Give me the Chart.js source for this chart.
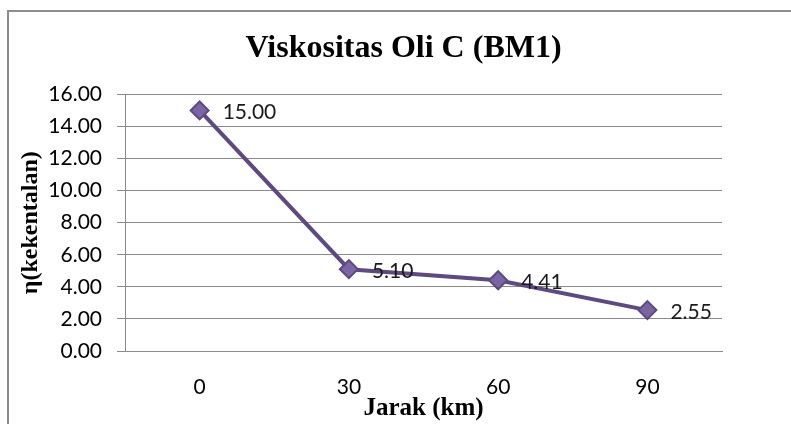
<!DOCTYPE html>
<html>
<head>
<meta charset="utf-8">
<script src="https://cdn.jsdelivr.net/npm/chart.js@4/dist/chart.umd.min.js"></script>
<style>
    html, body { margin: 0; padding: 0; background: #fff; overflow: hidden; }
    #wrap { position: relative; width: 791px; height: 424px; }
    #frame {
        position: absolute; left: 7px; top: 10px; width: 800px; height: 430px;
        border-top: 2px solid #8c8c8c; border-left: 2px solid #8c8c8c;
        box-sizing: border-box;
    }
    canvas { position: absolute; left: 0; top: 0; }
</style>
</head>
<body>
<div id="wrap">
    <div id="frame"></div>
    <canvas id="chart" width="791" height="424"></canvas>
</div>
<script>
// --- DATA ---
const distances = ['0', '30', '60', '90'];
const viscosity = [15.00, 5.10, 4.41, 2.55];
const yTicks = [0, 2, 4, 6, 8, 10, 12, 14, 16];

const titleText = 'Viskositas Oli C (BM1)';
const xTitle = 'Jarak (km)';
const yTitle = 'η(kekentalan)';

const lineColor = '#5e4a80';
const markerFill = '#7c65a3';
const gridColor = '#8a8a8a';
const numFont = { family: 'Lato', size: 21 };

// value labels to the right of each point
const valueLabels = {
    id: 'valueLabels',
    afterDatasetsDraw(chart) {
        const { ctx } = chart;
        const meta = chart.getDatasetMeta(0);
        ctx.save();
        ctx.font = `${numFont.size}px ${numFont.family}`;
        ctx.fillStyle = '#1a1a1a';
        ctx.textAlign = 'left';
        ctx.textBaseline = 'middle';
        meta.data.forEach((pt, i) => {
            ctx.fillText(viscosity[i].toFixed(2), pt.x + 23, pt.y + 2);
        });
        ctx.restore();
    }
};

new Chart(document.getElementById('chart'), {
    type: 'line',
    data: {
        labels: distances,
        datasets: [{
            data: viscosity,
            borderColor: lineColor,
            borderWidth: 4,
            pointStyle: 'rectRot',
            pointRadius: 9,
            pointBackgroundColor: markerFill,
            pointBorderColor: lineColor,
            pointBorderWidth: 2,
            tension: 0
        }]
    },
    options: {
        responsive: false,
        animation: false,
        layout: { padding: { left: 16, right: 0, top: 0, bottom: 0 } },
        plugins: {
            legend: { display: false },
            tooltip: { enabled: false },
            title: {
                display: true,
                text: titleText,
                color: '#000',
                font: { family: 'Liberation Serif', size: 32, weight: 'bold' },
                padding: { top: 30, bottom: 26 }
            }
        },
        scales: {
            x: {
                offset: true,
                grid: { display: false },
                border: { display: true, color: gridColor, width: 1 },
                ticks: { color: '#000', font: numFont, padding: 16 },
                title: {
                    display: true, text: xTitle, color: '#000',
                    font: { family: 'Liberation Serif', size: 25, weight: 'bold' },
                    padding: { top: 0, bottom: 0 }
                },
                afterFit: s => { s.height = 73; }
            },
            y: {
                min: 0,
                max: 16,
                afterBuildTicks: s => { s.ticks = yTicks.map(v => ({ value: v })); },
                grid: { color: gridColor, lineWidth: 1, tickLength: 8 },
                border: { display: true, color: gridColor, width: 1 },
                ticks: {
                    color: '#000', font: numFont, padding: 15,
                    callback: v => Number(v).toFixed(2)
                },
                title: {
                    display: true, text: yTitle, color: '#000',
                    font: { family: 'Liberation Serif', size: 24, weight: 'bold' },
                    padding: { top: 0, bottom: 0 }
                },
                afterFit: s => { s.width = 109; }
            },
            // empty right-hand box that keeps the plot area narrower than the frame
            yRight: {
                position: 'right',
                display: true,
                grid: { display: false, drawTicks: false },
                border: { display: false },
                ticks: { display: false },
                afterFit: s => { s.width = 69; }
            }
        }
    },
    plugins: [valueLabels]
});
</script>
</body>
</html>
